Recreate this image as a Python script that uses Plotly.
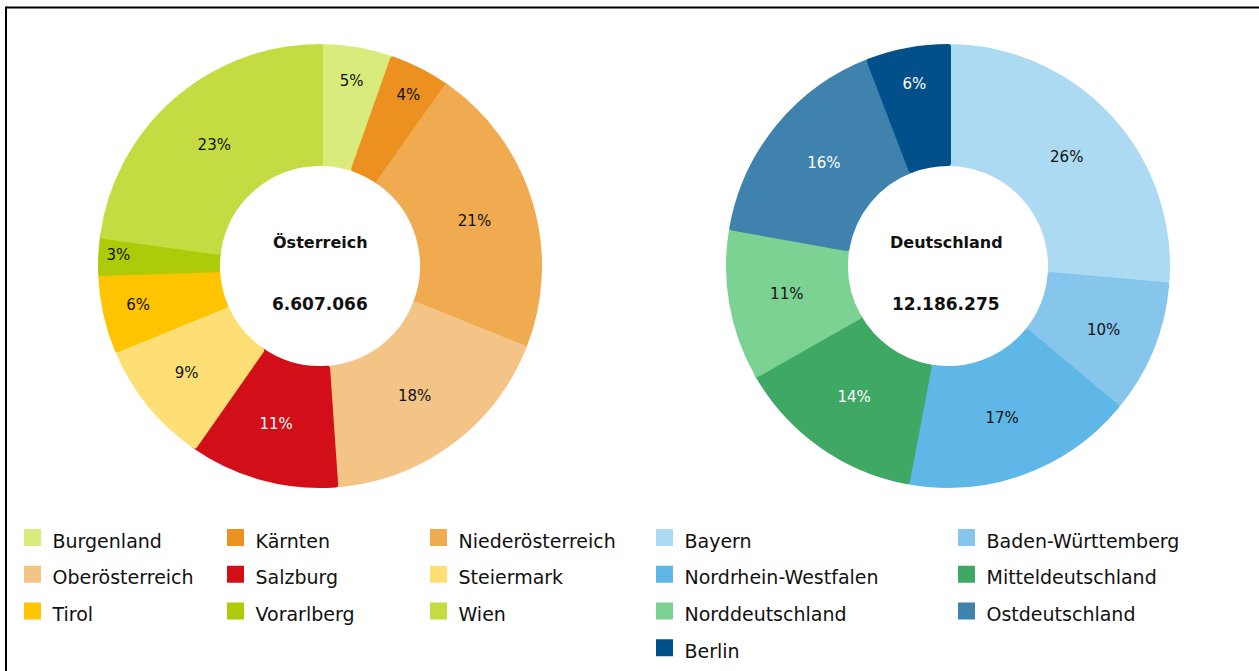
import plotly.graph_objects as go

# ---------------- data ----------------
at_labels = ["Burgenland", "Kärnten", "Niederösterreich", "Oberösterreich", "Salzburg",
             "Steiermark", "Tirol", "Vorarlberg", "Wien"]
at_values = [5.4, 4.4, 21.3, 17.8, 10.8, 9.1, 5.7, 2.7, 22.8]
at_colors = ["#DAEB7E", "#EC9020", "#F0AA50", "#F4C486", "#D20F19",
             "#FDDF75", "#FEC400", "#AECB0A", "#C4DC42"]
at_text_colors = ["#111", "#111", "#111", "#111", "#FFFFFF", "#111", "#111", "#111", "#111"]
at_title = "Österreich"
at_total = "6.607.066"

de_labels = ["Bayern", "Baden-Württemberg", "Nordrhein-Westfalen", "Mitteldeutschland",
             "Norddeutschland", "Ostdeutschland", "Berlin"]
de_values = [26.4, 9.7, 16.9, 13.8, 11.0, 16.4, 5.8]
de_colors = ["#ADDAF3", "#87C6EC", "#5FB7E8", "#3EA864", "#7BD293", "#3F82AE", "#02508A"]
de_text_colors = ["#111", "#111", "#111", "#FFFFFF", "#111", "#FFFFFF", "#FFFFFF"]
de_title = "Deutschland"
de_total = "12.186.275"

# ---------------- layout helpers ----------------
W, H = 1259, 671
ML, MR, MT, MB = 80, 80, 40, 0
GW, GH = W - ML - MR, H - MT - MB

def px_x(x):
    return (x - ML) / GW

def px_y(y):
    return 1 - (y - MT) / GH

FONT = "DejaVu Sans"
LINE_W = 6

def legend_label(s):
    return "<span style='font-size:19px'>" + s + "</span>"

R = 222 - LINE_W / 2

def pie(labels, values, colors, tcolors, cx, cy, legend):
    return go.Pie(
        labels=[legend_label(l) for l in labels],
        values=values,
        marker=dict(colors=colors, line=dict(color=colors, width=LINE_W)),
        hole=(100 + LINE_W / 2) / R,
        sort=False,
        direction="clockwise",
        rotation=0,
        textinfo="percent",
        texttemplate="%{percent:.0%}",
        textposition="inside",
        insidetextorientation="horizontal",
        insidetextfont=dict(family=FONT, size=15, color=tcolors),
        domain=dict(x=[px_x(cx - R), px_x(cx + R)], y=[px_y(cy + R), px_y(cy - R)]),
        legend=legend,
        hoverinfo="label+percent",
    )

fig = go.Figure()
fig.add_trace(pie(at_labels, at_values, at_colors, at_text_colors, 320, 266, "legend"))
fig.add_trace(pie(de_labels, de_values, de_colors, de_text_colors, 948, 266, "legend2"))

ann = []
for title, total, cx in [(at_title, at_total, 320), (de_title, de_total, 946)]:
    for txt, yy, fs in [(title, 242, 16), (total, 304, 17)]:
        ann.append(dict(x=px_x(cx), y=px_y(yy), xref="paper", yref="paper", text="<b>" + txt + "</b>",
                        xanchor="center", yanchor="middle", showarrow=False,
                        font=dict(family=FONT, size=fs, color="#111")))

shapes = [
    dict(type="line", xref="paper", yref="paper", x0=px_x(6), x1=px_x(W + 5), y0=px_y(7.5), y1=px_y(7.5),
         line=dict(color="black", width=2)),
    dict(type="line", xref="paper", yref="paper", x0=px_x(6), x1=px_x(6), y0=px_y(6.5), y1=px_y(H + 5),
         line=dict(color="black", width=2)),
]

legend_common = dict(orientation="h", font=dict(family=FONT, size=26, color="#111"),
                     bgcolor="rgba(0,0,0,0)", borderwidth=0, yanchor="top", y=px_y(514),
                     entrywidthmode="pixels")

fig.update_layout(
    width=W, height=H,
    margin=dict(l=ML, r=MR, t=MT, b=MB, autoexpand=False),
    paper_bgcolor="white", plot_bgcolor="white",
    showlegend=True,
    legend=dict(**legend_common, x=px_x(12.5), xanchor="left", entrywidth=158),
    legend2=dict(**legend_common, x=px_x(1248.5), xanchor="right", entrywidth=257),
    annotations=ann,
    shapes=shapes,
)

fig.write_html("out.html", config={"displayModeBar": False},
               post_script="document.body.style.margin='0px';")
